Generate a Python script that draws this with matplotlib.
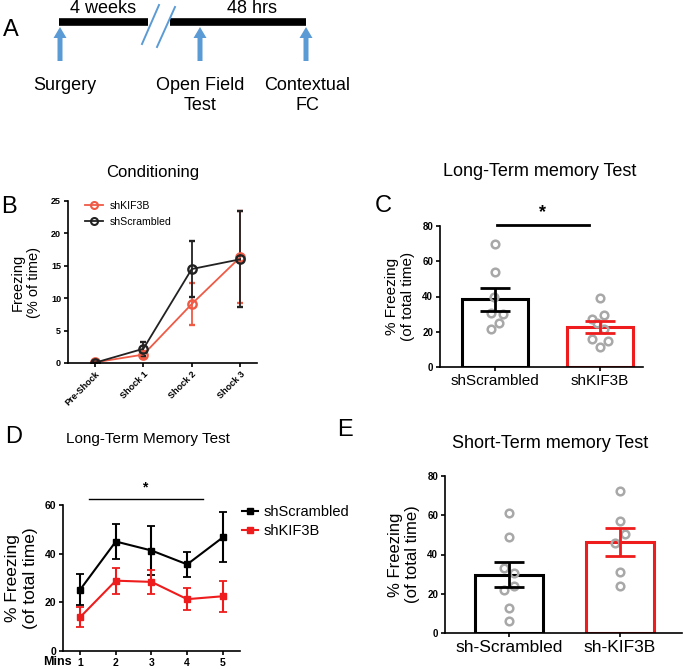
import numpy as np
import matplotlib
matplotlib.use("Agg")
import matplotlib.pyplot as plt
from matplotlib.lines import Line2D

plt.rcParams['font.family'] = ['Liberation Sans', 'DejaVu Sans']

# --- data -------------------------------------------------------------
# B: conditioning
shocks = ["Pre-Shock", "Shock 1", "Shock 2", "Shock 3"]
b_kif = [0.1, 1.3, 9.1, 16.3]
b_kif_err = [0.2, 0.5, 3.3, 7.1]
b_scr = [0.05, 2.2, 14.5, 16.0]
b_scr_err = [0.1, 1.1, 4.3, 7.4]

# C: long-term memory test (bars + individual animals)
c_groups = ["shScrambled", "shKIF3B"]
c_mean = [38.5, 22.7]
c_sem = [6.6, 3.2]
c_scr_pts = [69.8, 54.0, 39.8, 30.9, 29.8, 25.0, 21.8]
c_kif_pts = [39.2, 29.4, 27.1, 25.2, 21.4, 15.7, 14.8, 11.4]
c_scr_jit = [0.0, 0.0, -0.01, -0.04, 0.08, 0.04, -0.04]
c_kif_jit = [0.0, 0.04, -0.08, -0.03, 0.04, -0.08, 0.08, 0.0]

# D: long-term memory test by minute
mins = [1, 2, 3, 4, 5]
d_scr = [25.2, 45.0, 41.3, 35.6, 46.7]
d_scr_sem = [6.4, 7.3, 10.1, 5.0, 10.3]
d_kif = [13.9, 28.9, 28.4, 21.3, 22.5]
d_kif_sem = [4.1, 5.4, 4.8, 4.6, 6.4]

# E: short-term memory test
e_groups = ["sh-Scrambled", "sh-KIF3B"]
e_mean = [29.7, 46.4]
e_sem = [6.5, 7.1]
e_scr_pts = [61.0, 49.0, 33.0, 30.8, 24.2, 21.7, 12.9, 6.1]
e_kif_pts = [72.2, 57.3, 50.2, 46.1, 31.0, 24.2]
e_scr_jit = [0.0, 0.0, -0.045, 0.045, 0.045, -0.045, 0.0, 0.0]
e_kif_jit = [0.0, 0.0, 0.045, -0.045, 0.0, 0.0]

W, H = 685, 669
BLUE = "#5b9bd5"
RED_B = "#ef5a45"
RED = "#ee1c1c"
DARK = "#222222"
GREY = "#a8a8a8"

fig = plt.figure(figsize=(W / 100, H / 100), dpi=100)

# overlay axes in pixel coordinates for panel A and free text
ov = fig.add_axes([0, 0, 1, 1])
ov.set_xlim(0, W)
ov.set_ylim(H, 0)
ov.axis("off")

# --- panel A: timeline ----------------------------------------------
ov.plot([59, 148], [22, 22], color="k", lw=5.5, solid_capstyle="butt")
ov.plot([170, 306], [22, 22], color="k", lw=5.5, solid_capstyle="butt")
ov.plot([142, 159], [44, 5], color=BLUE, lw=1.4)
ov.plot([157, 175], [47, 7], color=BLUE, lw=1.4)
for xa in [60, 200, 306]:
    ov.arrow(xa, 61, 0, -34, width=5, head_width=13, head_length=11,
             length_includes_head=True, color=BLUE, lw=0)
ov.text(103, 8.5, "4 weeks", fontsize=13, ha="center", va="center")
ov.text(252, 8.5, "48 hrs", fontsize=13, ha="center", va="center")
ov.text(65, 77, "Surgery", fontsize=13, ha="center", va="top")
ov.text(200, 77, "Open Field\nTest", fontsize=13, ha="center", va="top")
ov.text(307, 77, "Contextual\nFC", fontsize=13, ha="center", va="top")

for letter, (lx, ly) in {"A": (11, 30), "B": (9, 207), "C": (383, 206),
                         "D": (14, 437), "E": (345, 430)}.items():
    ov.text(lx, ly, letter, fontsize=17, ha="center", va="center")

ov.text(153, 172, "Conditioning", fontsize=12, ha="center", va="center")
ov.text(540, 172, "Long-Term memory Test", fontsize=13, ha="center", va="center")
ov.text(148, 439, "Long-Term Memory Test", fontsize=11, ha="center", va="center")
ov.text(550, 443, "Short-Term memory Test", fontsize=13, ha="center", va="center")


def px_axes(left, top, right, bottom):
    return fig.add_axes([left / W, 1 - bottom / H, (right - left) / W, (bottom - top) / H])


def style(ax, size=7):
    for s in ["top", "right"]:
        ax.spines[s].set_visible(False)
    for s in ["left", "bottom"]:
        ax.spines[s].set_linewidth(1.2)
    ax.tick_params(width=1.2, length=3, pad=2, labelsize=size)
    for t in ax.get_yticklabels():
        t.set_fontweight("bold")


# --- panel B ---------------------------------------------------------
axb = px_axes(68, 201, 257, 363)
xb = np.arange(len(shocks))
axb.errorbar(xb, b_kif, yerr=b_kif_err, color=RED_B, lw=1.3, marker="o", ms=6,
             mfc="none", mec=RED_B, mew=1.7, capsize=2.5, capthick=1.2)
axb.errorbar(xb, b_scr, yerr=b_scr_err, color=DARK, lw=1.3, marker="o", ms=6,
             mfc="none", mec=DARK, mew=1.7, capsize=2.5, capthick=1.2)
axb.set_xlim(-0.56, 3.35)
axb.set_ylim(0, 25)
axb.set_yticks([0, 5, 10, 15, 20, 25])
axb.set_xticks(xb)
axb.set_xticklabels(shocks, rotation=45, ha="right", rotation_mode="anchor",
                    fontweight="bold")
style(axb, 6.5)
axb.set_ylabel("Freezing\n(% of time)", fontsize=10.5, labelpad=7)
b_handles = [Line2D([], [], color=RED_B, lw=1.3, marker="o", ms=5, mfc="none", mew=1.5),
             Line2D([], [], color=DARK, lw=1.3, marker="o", ms=5, mfc="none", mew=1.5)]
axb.legend(b_handles, ["shKIF3B", "shScrambled"], loc="upper left",
           bbox_to_anchor=(0.09, 1.0), frameon=False, borderaxespad=0, borderpad=0,
           fontsize=7.6, handlelength=1.7, handletextpad=0.6, labelspacing=0.55)


# --- bar panels C and E ---------------------------------------------
def bar_panel(ax, groups, means, sems, pts, jits, xlim, catsize):
    xs = np.arange(len(groups))
    colors = ["k", RED]
    for i in range(len(groups)):
        ax.bar(xs[i], means[i], width=0.62, facecolor="white", edgecolor=colors[i],
               linewidth=2.2, zorder=2)
        ax.errorbar(xs[i], means[i], yerr=sems[i], color=colors[i], lw=2.0,
                    capsize=11, capthick=2.0, zorder=4)
        ax.plot(xs[i] + np.array(jits[i]), pts[i], "o", ms=5.5, mfc="none",
                mec=GREY, mew=1.8, zorder=3)
    ax.set_xlim(*xlim)
    ax.set_ylim(0, 80)
    ax.set_yticks([0, 20, 40, 60, 80])
    ax.set_xticks(xs)
    ax.set_xticklabels(groups)
    ax.tick_params(axis="x", length=0)
    style(ax, 7)
    for t in ax.get_xticklabels():
        t.set_fontsize(catsize)


axc = px_axes(440, 226, 643, 367)
bar_panel(axc, c_groups, c_mean, c_sem, [c_scr_pts, c_kif_pts],
          [c_scr_jit, c_kif_jit], (-0.524, 1.41), 11)
axc.set_ylabel("% Freezing\n(of total time)", fontsize=11, labelpad=5)
axc.plot([0.02, 0.9], [80.5, 80.5], color="k", lw=2, clip_on=False)
axc.text(0.45, 83, "*", fontsize=13, fontweight="bold", ha="center", va="bottom")

axe = px_axes(445, 476, 682, 633)
bar_panel(axe, e_groups, e_mean, e_sem, [e_scr_pts, e_kif_pts],
          [e_scr_jit, e_kif_jit], (-0.577, 1.56), 12.5)
axe.set_ylabel("% Freezing\n(of total time)", fontsize=12, labelpad=5)

# --- panel D -----------------------------------------------------------
axd = px_axes(63, 505, 240, 651)
axd.errorbar(mins, d_scr, yerr=d_scr_sem, color="k", lw=1.5, marker="s", ms=5,
             capsize=3, capthick=1.3)
axd.errorbar(mins, d_kif, yerr=d_kif_sem, color=RED, lw=1.5, marker="s", ms=5,
             capsize=3, capthick=1.3)
axd.set_xlim(0.52, 5.48)
axd.set_ylim(0, 60)
axd.set_yticks([0, 20, 40, 60])
axd.set_xticks(mins)
style(axd, 7.5)
for t in axd.get_xticklabels():
    t.set_fontweight("bold")
axd.set_ylabel("% Freezing\n(of total time)", fontsize=12.5, labelpad=5)
axd.annotate("Mins", xy=(0, 0), xycoords="axes fraction", xytext=(-4, -3.5),
             textcoords="offset points", ha="center", va="top",
             fontsize=9, fontweight="bold")
axd.plot([1.25, 4.44], [62.5, 62.5], color="k", lw=1, clip_on=False)
axd.text(2.8, 64.5, "*", fontsize=10, fontweight="bold", ha="center", va="bottom")
d_handles = [Line2D([], [], color="k", lw=1.5, marker="s", ms=5),
             Line2D([], [], color=RED, lw=1.5, marker="s", ms=5)]
axd.legend(d_handles, ["shScrambled", "shKIF3B"], loc="upper left",
           bbox_to_anchor=(1.01, 1.0), frameon=False, borderaxespad=0, borderpad=0,
           fontsize=10.5, handlelength=1.1, handletextpad=0.4, labelspacing=0.35)

fig.savefig("out.png", dpi=100)
